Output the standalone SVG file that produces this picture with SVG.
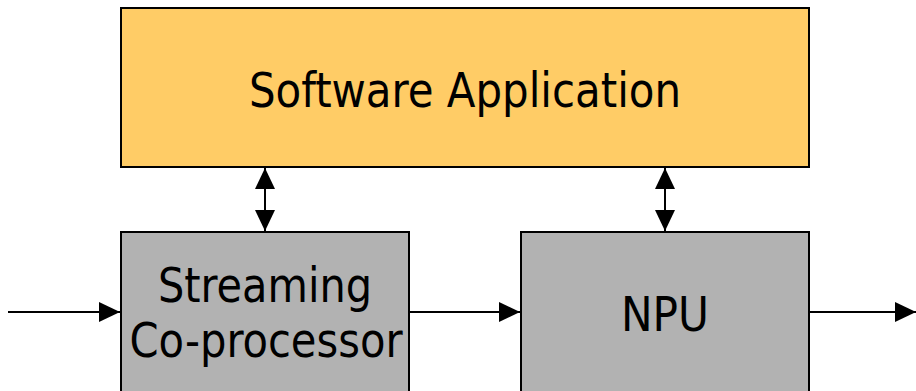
<svg xmlns="http://www.w3.org/2000/svg" width="916" height="391" viewBox="0 0 916 391">
<style>
.box{stroke:#000;stroke-width:2}
.app{fill:#FFCC66}
.blk{fill:#B2B2B2}
.t{font-family:"DejaVu Sans Condensed","DejaVu Sans",sans-serif;font-size:48px;fill:#000;text-anchor:middle}
.c{stroke:#000;stroke-width:2;fill:none}
</style>
<defs>
<marker id="ah" viewBox="0 0 21 20" refX="21" refY="10" markerWidth="21" markerHeight="20" markerUnits="userSpaceOnUse" orient="auto-start-reverse">
<path d="M0,0 L21,10 L0,20 Z" fill="#000"/>
</marker>
</defs>
<g id="app">
<rect class="box app" x="121" y="8" width="688" height="159"/>
<text class="t" x="465" y="107" textLength="432" lengthAdjust="spacingAndGlyphs">Software Application</text>
</g>
<g id="streaming">
<rect class="box blk" x="121" y="232" width="288" height="170"/>
<text class="t" x="265" y="302" textLength="214" lengthAdjust="spacingAndGlyphs">Streaming</text>
<text class="t" x="266" y="357" textLength="273" lengthAdjust="spacingAndGlyphs">Co-processor</text>
</g>
<g id="npu">
<rect class="box blk" x="521" y="232" width="288" height="170"/>
<text class="t" x="665" y="331" textLength="88" lengthAdjust="spacingAndGlyphs">NPU</text>
</g>
<g id="connectors">
<line class="c" x1="265" y1="168" x2="265" y2="231" marker-start="url(#ah)" marker-end="url(#ah)"/>
<line class="c" x1="665" y1="168" x2="665" y2="231" marker-start="url(#ah)" marker-end="url(#ah)"/>
<line class="c" x1="8" y1="312" x2="120" y2="312" marker-end="url(#ah)"/>
<line class="c" x1="410" y1="312" x2="520" y2="312" marker-end="url(#ah)"/>
<line class="c" x1="810" y1="312" x2="916" y2="312" marker-end="url(#ah)"/>
</g>
</svg>
